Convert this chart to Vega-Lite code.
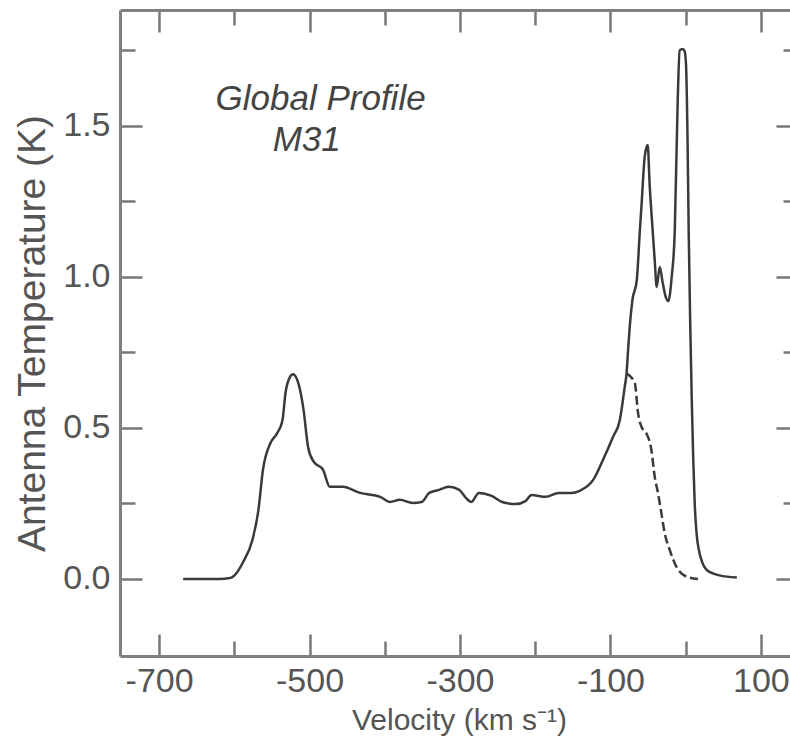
{
  "$schema": "https://vega.github.io/schema/vega-lite/v6.json",
  "width": 678,
  "height": 646,
  "autosize": "none",
  "padding": {"left": 120, "top": 10, "right": -8, "bottom": 93},
  "background": "white",
  "config": {"view": {"stroke": null}},
  "datasets": {
    "solid": [
      {"v": -668, "T": 0}, {"v": -640, "T": 0}, {"v": -620, "T": 0}, {"v": -606, "T": 0.003},
      {"v": -597, "T": 0.02}, {"v": -589, "T": 0.053}, {"v": -576, "T": 0.129}, {"v": -568, "T": 0.228},
      {"v": -562, "T": 0.361}, {"v": -552, "T": 0.45}, {"v": -543, "T": 0.483}, {"v": -536, "T": 0.526},
      {"v": -532, "T": 0.616}, {"v": -526, "T": 0.669}, {"v": -522, "T": 0.678}, {"v": -515, "T": 0.649},
      {"v": -508, "T": 0.56}, {"v": -502, "T": 0.437}, {"v": -495, "T": 0.39}, {"v": -482, "T": 0.361},
      {"v": -473, "T": 0.305}, {"v": -456, "T": 0.305}, {"v": -433, "T": 0.285}, {"v": -406, "T": 0.272},
      {"v": -393, "T": 0.255}, {"v": -380, "T": 0.262}, {"v": -363, "T": 0.252}, {"v": -351, "T": 0.255},
      {"v": -341, "T": 0.285}, {"v": -328, "T": 0.295}, {"v": -315, "T": 0.305}, {"v": -301, "T": 0.295},
      {"v": -292, "T": 0.268}, {"v": -285, "T": 0.255}, {"v": -275, "T": 0.285}, {"v": -258, "T": 0.275},
      {"v": -244, "T": 0.255}, {"v": -226, "T": 0.248}, {"v": -213, "T": 0.258}, {"v": -205, "T": 0.278},
      {"v": -186, "T": 0.272}, {"v": -169, "T": 0.285}, {"v": -152, "T": 0.285}, {"v": -141, "T": 0.292},
      {"v": -123, "T": 0.328}, {"v": -110, "T": 0.394}, {"v": -96.5, "T": 0.471}, {"v": -87.6, "T": 0.526},
      {"v": -81, "T": 0.637}, {"v": -78.6, "T": 0.681}, {"v": -76.6, "T": 0.758}, {"v": -74.4, "T": 0.835},
      {"v": -70.8, "T": 0.924}, {"v": -65, "T": 0.99}, {"v": -61, "T": 1.15}, {"v": -58.4, "T": 1.25},
      {"v": -54.4, "T": 1.4}, {"v": -50.5, "T": 1.437}, {"v": -47.8, "T": 1.3}, {"v": -45.2, "T": 1.2},
      {"v": -41.2, "T": 1.056}, {"v": -38.5, "T": 0.967}, {"v": -34.5, "T": 1.033}, {"v": -30.5, "T": 0.98},
      {"v": -26, "T": 0.93}, {"v": -23, "T": 0.92}, {"v": -18.6, "T": 1.0}, {"v": -14.6, "T": 1.146},
      {"v": -10.6, "T": 1.586}, {"v": -8, "T": 1.75}, {"v": -4, "T": 1.755}, {"v": -1.5, "T": 1.748},
      {"v": 0.5, "T": 1.7}, {"v": 2.5, "T": 1.45}, {"v": 4, "T": 1.15}, {"v": 6, "T": 0.85},
      {"v": 8, "T": 0.6}, {"v": 10, "T": 0.4}, {"v": 12, "T": 0.25}, {"v": 14.5, "T": 0.15},
      {"v": 18, "T": 0.09}, {"v": 22, "T": 0.055}, {"v": 28, "T": 0.03}, {"v": 45, "T": 0.012},
      {"v": 68, "T": 0.005}
    ],
    "dashed": [
      {"v": -78.6, "T": 0.681}, {"v": -67.6, "T": 0.648}, {"v": -63.3, "T": 0.549}, {"v": -58.8, "T": 0.504},
      {"v": -52.2, "T": 0.482}, {"v": -45.6, "T": 0.427}, {"v": -41.2, "T": 0.339}, {"v": -36.8, "T": 0.284},
      {"v": -32.3, "T": 0.218}, {"v": -27.9, "T": 0.152}, {"v": -21.2, "T": 0.096}, {"v": -12.4, "T": 0.041},
      {"v": 0.9, "T": 0.008}, {"v": 16.3, "T": 0}
    ],
    "notes": [
      {"v": -625, "T": 1.59, "label": "Global Profile"},
      {"v": -549, "T": 1.455, "label": "M31"}
    ]
  },
  "layer": [
    {
      "data": {"name": "solid"},
      "mark": {"type": "line", "color": "#3a3a3a", "strokeWidth": 2.5, "interpolate": "monotone"},
      "encoding": {
        "x": {
          "field": "v", "type": "quantitative",
          "scale": {"domain": [-752, 149.3], "nice": false, "zero": false},
          "axis": {
            "orient": "bottom",
            "title": "Velocity (km s⁻¹)",
            "values": [-700, -600, -500, -400, -300, -200, -100, 0, 100],
            "labelExpr": "datum.value % 200 !== 0 ? (datum.value < 0 ? '-' : '') + abs(datum.value) : ''",
            "tickSize": {"condition": {"test": "datum.value % 200 !== 0", "value": -22}, "value": -15},
            "labelPadding": 30,
            "labelOverlap": false,
            "labelFlush": false,
            "grid": false,
            "domainColor": "#808080", "domainWidth": 3,
            "tickColor": "#777777", "tickWidth": 2.5,
            "labelFont": "Liberation Sans", "labelFontSize": 34, "labelColor": "#555555",
            "titleFont": "Liberation Sans", "titleFontSize": 30, "titleFontWeight": "normal", "titleColor": "#555555",
            "titlePadding": 0
          }
        },
        "y": {
          "field": "T", "type": "quantitative",
          "scale": {"domain": [-0.255, 1.884], "nice": false, "zero": false},
          "axis": {
            "orient": "left",
            "title": "Antenna Temperature (K)",
            "values": [0, 0.25, 0.5, 0.75, 1, 1.25, 1.5, 1.75],
            "labelExpr": "(datum.value * 4) % 2 === 0 ? format(datum.value, '.1f') : ''",
            "tickSize": {"condition": {"test": "(datum.value * 4) % 2 === 0", "value": -22}, "value": -15},
            "labelPadding": 32,
            "labelOverlap": false,
            "grid": false,
            "domainColor": "#808080", "domainWidth": 3,
            "tickColor": "#777777", "tickWidth": 2.5,
            "labelFont": "Liberation Sans", "labelFontSize": 34, "labelColor": "#555555",
            "titleFont": "Liberation Sans", "titleFontSize": 39, "titleFontWeight": "normal", "titleColor": "#555555",
            "titlePadding": 10
          }
        }
      }
    },
    {
      "data": {"name": "dashed"},
      "mark": {"type": "line", "color": "#3a3a3a", "strokeWidth": 2.5, "strokeDash": [9, 4], "interpolate": "monotone"},
      "encoding": {
        "x": {
          "field": "v", "type": "quantitative",
          "axis": {
            "orient": "top",
            "title": null,
            "labels": false,
            "values": [-700, -600, -500, -400, -300, -200, -100, 0, 100],
            "tickSize": {"condition": {"test": "datum.value % 200 !== 0", "value": -22}, "value": -15},
            "grid": false,
            "domainColor": "#808080", "domainWidth": 3,
            "tickColor": "#777777", "tickWidth": 2.5
          }
        },
        "y": {
          "field": "T", "type": "quantitative",
          "axis": {
            "orient": "right",
            "title": null,
            "labels": false,
            "values": [0, 0.25, 0.5, 0.75, 1, 1.25, 1.5, 1.75],
            "tickSize": {"condition": {"test": "(datum.value * 4) % 2 === 0", "value": -22}, "value": -15},
            "grid": false,
            "domainColor": "#808080", "domainWidth": 3,
            "tickColor": "#777777", "tickWidth": 2.5
          }
        }
      }
    },
    {
      "data": {"name": "notes"},
      "mark": {"type": "text", "align": "left", "baseline": "middle", "font": "Liberation Sans", "fontStyle": "italic", "fontSize": 35, "color": "#444444"},
      "encoding": {
        "x": {"field": "v", "type": "quantitative", "axis": null},
        "y": {"field": "T", "type": "quantitative", "axis": null},
        "text": {"field": "label", "type": "nominal"}
      }
    }
  ],
  "resolve": {"axis": {"x": "independent", "y": "independent"}}
}
